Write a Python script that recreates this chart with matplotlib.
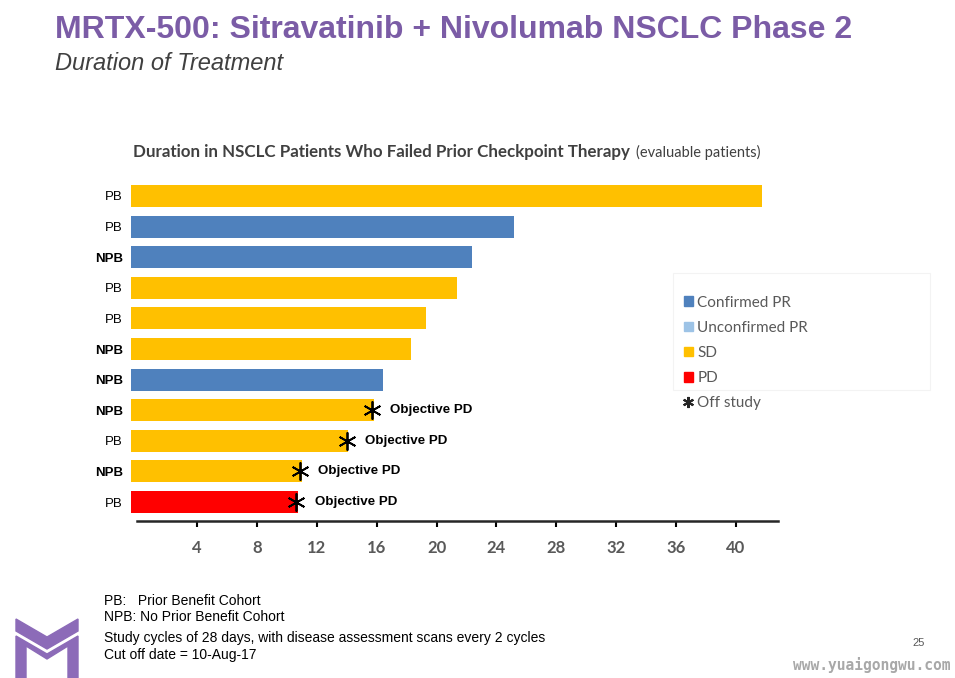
import numpy as np
import matplotlib.pyplot as plt
import matplotlib as mpl
from matplotlib.patches import Patch, Polygon, Rectangle
from matplotlib.lines import Line2D

# data, top bar first
cohorts = ['PB', 'PB', 'NPB', 'PB', 'PB', 'NPB', 'NPB', 'NPB', 'PB', 'NPB', 'PB']
durations = [41.7, 25.2, 22.4, 21.4, 19.3, 18.3, 16.4, 15.8, 14.1, 11.0, 10.75]
responses = ['SD', 'PR', 'PR', 'SD', 'SD', 'SD', 'PR', 'SD', 'SD', 'SD', 'PD']
off_study = [False, False, False, False, False, False, False, True, True, True, True]
off_reason = 'Objective PD'
xticks = [4, 8, 12, 16, 20, 24, 28, 32, 36, 40]

colors = {'PR': '#4F81BD', 'UPR': '#9DC3E6', 'SD': '#FFC000', 'PD': '#FF0000'}
purple = '#7B5CA6'
grey = '#595959'

fig = plt.figure(figsize=(9.55, 6.78), dpi=100)
ax = fig.add_axes([131/955, 1-521/678, 647/955, 340/678])

# bars are drawn from slightly left of the axis start, like the original slide
bar_start = -0.4
y = np.arange(len(durations))
ax.barh(y, np.array(durations) - bar_start, height=0.72, left=bar_start,
        color=[colors[r] for r in responses])
for i in y:
    if off_study[i]:
        ax.plot(durations[i] - 0.1, i, marker=(6, 2, 0), color='black', markersize=13, mew=1.3)
        ax.annotate(off_reason, (durations[i], i), xytext=(12, 0), textcoords='offset points',
                    va='center', ha='left', fontsize=9.6, fontweight='bold', family='Liberation Sans')

ax.set_xlim(-0.4, 42.8)
ax.set_ylim(10.62, -0.49)
ax.set_yticks(y)
ax.set_yticklabels(cohorts, family='Liberation Sans', fontsize=9.5)
for lab, c in zip(ax.get_yticklabels(), cohorts):
    if c == 'NPB':
        lab.set_fontweight('bold')
ax.tick_params(axis='y', length=0, pad=6)
ax.set_xticks(xticks)
ax.set_xticklabels([str(t) for t in xticks], family='Lato', fontweight='bold', fontsize=12, color=grey)
ax.tick_params(axis='x', length=4, width=1.5, direction='out', pad=10)
for s in ['top', 'right', 'left']:
    ax.spines[s].set_visible(False)
ax.spines['bottom'].set_bounds(0, 42.8)
ax.spines['bottom'].set_linewidth(1.8)
ax.spines['bottom'].set_color('#262626')

# legend panel
fig.patches.append(Rectangle((673/955, 1-390/678), 257/955, 117/678, transform=fig.transFigure,
                             facecolor='white', edgecolor='#f3f3f3', lw=0.8, figure=fig))
handles = [Patch(color=colors['PR'], label='Confirmed PR'),
           Patch(color=colors['UPR'], label='Unconfirmed PR'),
           Patch(color=colors['SD'], label='SD'),
           Patch(color=colors['PD'], label='PD'),
           Line2D([], [], marker=(6, 2, 0), color='#262626', ls='none', markersize=8, mew=1.5,
                  label='Off study')]
leg = fig.legend(handles=handles, loc='upper left', bbox_to_anchor=(673/955, 1-285/678),
                 frameon=False, handlelength=0.6, handleheight=0.6,
                 handletextpad=0.3, labelspacing=0.73, borderpad=0.2,
                 prop={'family': 'Lato', 'size': 11})
for t in leg.get_texts():
    t.set_color(grey)

# titles
fig.text(55/955, 1-30/678, 'MRTX-500: Sitravatinib + Nivolumab NSCLC Phase 2', color=purple,
         fontsize=23, fontweight='bold', family='Liberation Sans', va='center')
fig.text(55/955, 1-64/678, 'Duration of Treatment', fontsize=17, style='italic',
         family='Liberation Sans', color='#404040', va='center')
fig.text(133/955, 1-152/678, 'Duration in NSCLC Patients Who Failed Prior Checkpoint Therapy',
         fontsize=12.2, fontweight='bold', family='Lato', color='#404040', va='center')
fig.text(636/955, 1-152/678, '(evaluable patients)', fontsize=10.5, family='Lato', color='#404040', va='center')

# footnotes
foot = dict(fontsize=10, family='Liberation Sans', color='black', va='center')
fig.text(104/955, 1-601/678, 'PB:   Prior Benefit Cohort', **foot)
fig.text(104/955, 1-617/678, 'NPB: No Prior Benefit Cohort', **foot)
fig.text(104/955, 1-638/678, 'Study cycles of 28 days, with disease assessment scans every 2 cycles', **foot)
fig.text(104/955, 1-655/678, 'Cut off date = 10-Aug-17', **foot)
fig.text(912/955, 1-643/678, '25', fontsize=8, family='Liberation Sans', color=grey, va='center')
fig.text(950/955, 1-665/678, 'www.yuaigongwu.com', fontsize=10.5, family='DejaVu Sans Mono', fontweight='bold',
         color='#a8a8a8', ha='right', va='center')

# logo
def px(pts):
    return [(a/955, 1-b/678) for a, b in pts]
logo = '#8C6BB8'
fig.patches.append(Polygon(px([(16, 619), (47, 637), (78, 619), (78, 631), (47, 649), (16, 631)]),
                           closed=True, color=logo, transform=fig.transFigure, figure=fig))
fig.patches.append(Polygon(px([(16, 636), (47, 654), (78, 636), (78, 678), (68, 678), (68, 646),
                               (47, 659), (26, 646), (26, 678), (16, 678)]),
                           closed=True, color=logo, transform=fig.transFigure, figure=fig))

fig.savefig('out.png', dpi=100)
